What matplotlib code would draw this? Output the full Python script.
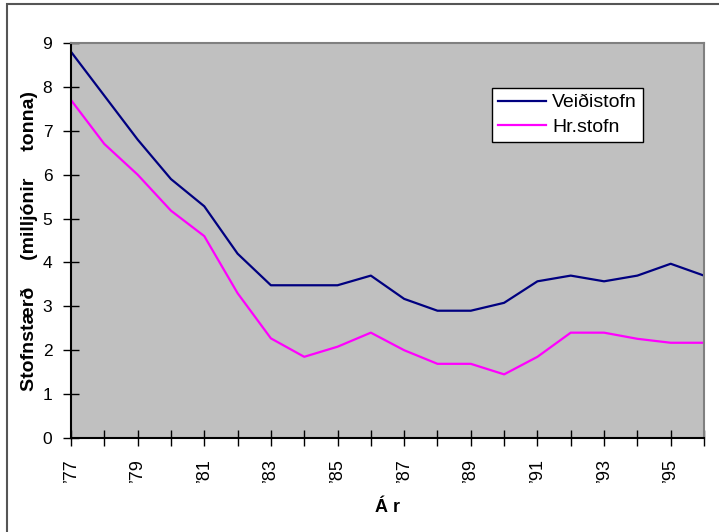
import matplotlib

matplotlib.use("Agg")
import matplotlib.pyplot as plt  # noqa: E402
from matplotlib.patches import Rectangle  # noqa: E402

plt.rcParams["font.family"] = ["Liberation Sans", "DejaVu Sans"]

years = list(range(1977, 1997))
veidistofn = [8.8, 7.8, 6.8, 5.9, 5.28, 4.2, 3.48, 3.48, 3.48, 3.7,
              3.17, 2.9, 2.9, 3.08, 3.57, 3.7, 3.57, 3.7, 3.97, 3.7]
hrstofn = [7.7, 6.7, 6.0, 5.18, 4.6, 3.3, 2.27, 1.85, 2.08, 2.4,
           2.0, 1.69, 1.69, 1.45, 1.85, 2.4, 2.4, 2.26, 2.17, 2.17]
tick_labels = ["\u2019" + str(y)[2:] if y % 2 == 1 else "" for y in years]

fig = plt.figure(figsize=(7.19, 5.32), dpi=100)
fig.patches.append(Rectangle((7 / 719, -0.1), 1.2, 1 - 4 / 532 + 0.1,
                             transform=fig.transFigure, fill=False,
                             edgecolor="#555555", linewidth=1.5))
ax = fig.add_axes([71 / 719, 1 - 438 / 532, (704 - 71) / 719, (438 - 43) / 532])
ax.set_facecolor("#C0C0C0")

ax.plot(years, veidistofn, color="#000080", linewidth=1.6, label="Veiðistofn")
ax.plot(years, hrstofn, color="#FF00FF", linewidth=1.6, label="Hr.stofn")

ax.set_xlim(years[0], years[-1])
ax.set_ylim(0, 9)
ax.set_yticks(range(0, 10))
ax.set_xticks(years)
ax.set_xticklabels(tick_labels, rotation=90, fontsize=13)
ax.tick_params(axis="y", labelsize=12.5, direction="inout", length=11, width=1, pad=8)
ax.tick_params(axis="x", direction="inout", length=11, width=1, pad=9)

for s in ("top", "right"):
    ax.spines[s].set_color("#808080")
    ax.spines[s].set_linewidth(1.5)
for s in ("left", "bottom"):
    ax.spines[s].set_color("black")
    ax.spines[s].set_linewidth(1.5)

ax.set_xlabel("Á r", fontsize=13, fontweight="bold", labelpad=12)
ax.set_ylabel("Stofnstærð     (milljónir     tonna)", fontsize=14,
              fontweight="bold", labelpad=3)

leg = ax.legend(loc="upper left", bbox_to_anchor=((492 - 71) / 633, 1 - (88 - 43) / 395),
                fontsize=14, frameon=True, fancybox=False, borderaxespad=0,
                handlelength=2.5, borderpad=0.3, labelspacing=0.35, handletextpad=0.3)
leg.get_frame().set_edgecolor("black")
leg.get_frame().set_facecolor("white")
leg.get_frame().set_alpha(1)
leg.get_frame().set_linewidth(1)

fig.savefig("out.png", dpi=100)
